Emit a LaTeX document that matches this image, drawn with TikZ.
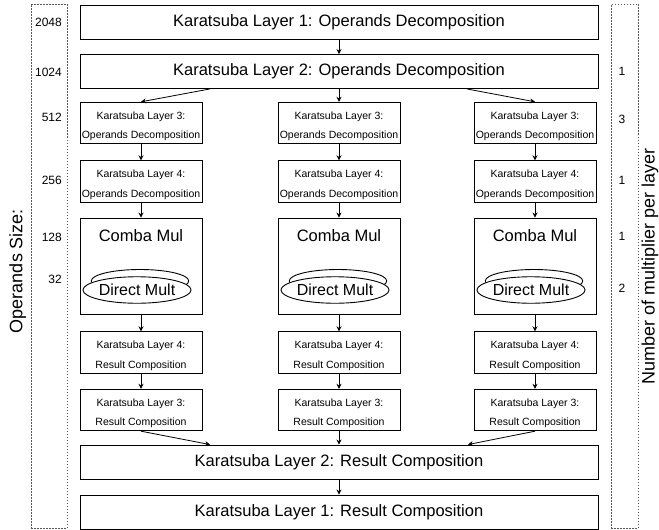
\documentclass[tikz,border=0pt]{standalone}
\usepackage{fontspec}
\setmainfont{Liberation Sans}
\usetikzlibrary{arrows.meta,shapes.geometric,calc}

\tikzset{
  box/.style={draw, line width=0.9pt, fill=white, inner sep=1pt, align=center},
  bigbox/.style={box, minimum width=518pt, minimum height=34pt,
    font=\fontsize{16.5}{19}\selectfont},
  % two-line boxes: the text block is shifted a little below the centre
  smallbox/.style={box, minimum width=122pt, minimum height=41.5pt,
    font=\fontsize{10.5}{19.5}\selectfont, text height=32pt, text depth=0.4pt},
  combabox/.style={box, minimum width=122pt, minimum height=96pt,
    font=\fontsize{16.5}{19}\selectfont, text height=5pt, text depth=55pt},
  backell/.style={ellipse, draw, line width=0.9pt, fill=white, inner sep=0pt,
    minimum width=97.5pt, minimum height=23pt},
  frontell/.style={ellipse, draw, line width=0.9pt, fill=white, inner sep=0pt,
    minimum width=90pt, minimum height=26.5pt, font=\fontsize{16}{19}\selectfont},
  dashbox/.style={draw=black!65, line width=0.6pt, dash pattern=on 1.5pt off 1.5pt,
    inner sep=0pt},
  num/.style={inner sep=0pt, font=\fontsize{12}{14}\selectfont},
  side/.style={inner sep=0pt, font=\fontsize{18}{21}\selectfont},
  arr/.style={-{Stealth[length=5pt,width=5pt]}, line width=0.8pt},
}

\begin{document}
\begin{tikzpicture}[x=1pt,y=-1pt]
\useasboundingbox (0,0) rectangle (659,530);

% side frames
\node[dashbox, minimum width=36pt, minimum height=524pt] (sizes) at (49,266) {};
\node[dashbox, minimum width=27pt, minimum height=524pt] (counts) at (624.5,266) {};

\node[side, rotate=90, anchor=base] (sizetitle) at (22.5,271) {Operands Size:};
\node[side, rotate=90, anchor=base] (counttitle) at (654.5,266.5) {Number of multiplier per layer};

% operand sizes
\node[num, anchor=east] (s2048) at (62,22.5) {2048};
\node[num, anchor=east] (s1024) at (62,72) {1024};
\node[num, anchor=east] (s512) at (62,117) {512};
\node[num, anchor=east] (s256) at (62,180) {256};
\node[num, anchor=east] (s128) at (62,237) {128};
\node[num, anchor=east] (s32) at (62,279) {32};

% multipliers per layer
\node[num] (m2) at (622,71) {1};
\node[num] (m3) at (622,119) {3};
\node[num] (m4) at (622,180) {1};
\node[num] (mc) at (622,236) {1};
\node[num] (md) at (622,288) {2};

% decomposition
\node[bigbox] (d1) at (339,22.5) {Karatsuba Layer 1: Operands Decomposition};
\node[bigbox] (d2) at (339,71.5) {Karatsuba Layer 2: Operands Decomposition};

\foreach \c/\x in {a/141,b/339,c/535}{
  \node[smallbox] (d3\c) at (\x,123) {Karatsuba Layer 3:\\Operands Decomposition};
  \node[smallbox] (d4\c) at (\x,181.5) {Karatsuba Layer 4:\\Operands Decomposition};
  \node[combabox] (cm\c) at (\x,266) {Comba Mul};
  \node[backell] (dmb\c) at (\x-1,281) {};
  \node[frontell] (dm\c) at (\x-4,290) {Direct Mult};
  \node[smallbox] (r4\c) at (\x,352.5) {Karatsuba Layer 4:\\Result Composition};
  \node[smallbox] (r3\c) at (\x,410) {Karatsuba Layer 3:\\Result Composition};
  \draw[arr] (d3\c.south) -- (d4\c.north);
  \draw[arr] (d4\c.south) -- (cm\c.north);
  \draw[arr] (cm\c.south) -- (r4\c.north);
  \draw[arr] (r4\c.south) -- (r3\c.north);
}

% composition
\node[bigbox] (r2) at (339,462) {Karatsuba Layer 2: Result Composition};
\node[bigbox] (r1) at (339,512) {Karatsuba Layer 1: Result Composition};

\draw[arr] (d1.south) -- (d2.north);
\draw[arr] ($(d2.south)+(-129,0)$) -- (d3a.north);
\draw[arr] (d2.south) -- (d3b.north);
\draw[arr] ($(d2.south)+(128,0)$) -- (d3c.north);

\draw[arr] (r3a.south) -- ($(r2.north)+(-129,0)$);
\draw[arr] (r3b.south) -- (r2.north);
\draw[arr] (r3c.south) -- ($(r2.north)+(129,0)$);
\draw[arr] (r2.south) -- (r1.north);
\end{tikzpicture}
\end{document}
